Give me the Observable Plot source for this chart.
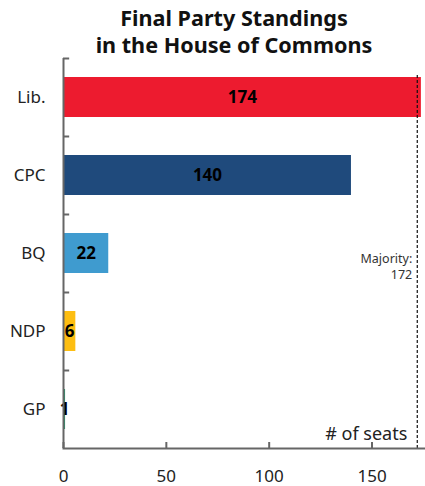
<!DOCTYPE html>
<html>
<head>
<meta charset="utf-8">
<script src="https://cdn.jsdelivr.net/npm/d3@7"></script>
<script src="https://cdn.jsdelivr.net/npm/@observablehq/plot@0.6"></script>
<style>
  html, body { margin: 0; padding: 0; background: #fff; }
  #title {
    box-sizing: border-box;
    width: 425px;
    height: 56px;
    padding: 4px 0 0 43px;
    text-align: center;
    font-family: "Noto Sans", "Open Sans", sans-serif;
    font-weight: 700;
    font-size: 21.6px;
    line-height: 27px;
    color: #111;
  }
  svg { display: block; }
</style>
</head>
<body>
<div id="title">Final Party Standings<br>in the House of Commons</div>
<div id="chart"></div>
<script>
// Seats won by each party
const parties = ["Lib.", "CPC", "BQ", "NDP", "GP"];
const seats = [174, 140, 22, 6, 1];
const partyColors = ["#ed1b2f", "#1f4a7c", "#3f9bcf", "#fdbe12", "#1a9b6b"];
const majority = 172;
const xTicks = [0, 50, 100, 150];

const data = parties.map((party, i) => ({party, seats: seats[i], color: partyColors[i]}));

const font = "'Noto Sans', 'Open Sans', sans-serif";
const axisColor = "#666";

const chart = Plot.plot({
  width: 425,
  height: 430,
  marginTop: 2,
  marginBottom: 38,
  marginLeft: 63,
  marginRight: 0,
  style: {fontFamily: font, color: "#222", background: "#fff"},
  x: {domain: [0, 176]},
  y: {domain: parties, paddingInner: 0.49, paddingOuter: 0.245},
  marks: [
    Plot.barX(data, {x: "seats", y: "party", fill: "color"}),
    // majority threshold
    Plot.ruleX([majority], {stroke: "#111", strokeWidth: 1.2, strokeDasharray: "3,2", insetTop: 17}),
    Plot.text([`Majority:\n${majority}`], {
      x: majority, y: () => "BQ", dx: -5, dy: 12,
      textAnchor: "end", lineHeight: 1.3, fontSize: 12.5, fill: "#333"
    }),
    Plot.text(["# of seats"], {
      x: majority, frameAnchor: "bottom", dx: -10, dy: -9,
      textAnchor: "end", lineAnchor: "bottom", fontSize: 18, fill: "#222"
    }),
    // value labels
    Plot.text(data, {
      x: d => d.seats / 2, y: "party", text: "seats",
      fontWeight: 700, fontSize: 17, fill: "#000"
    }),
    // axes
    Plot.axisY({tickSize: 0, tickPadding: 18, fontSize: 17, label: null, fill: "#222"}),
    Plot.ruleY(parties, {y: d => d, dy: -39, x1: 0, x2: 3, stroke: axisColor, strokeWidth: 2}),
    Plot.axisX({ticks: xTicks, tickSize: 0, tickPadding: 21, fontSize: 17, label: null, fill: "#222"}),
    Plot.axisX({ticks: xTicks, tickSize: 6, dy: -6, tickFormat: () => "", label: null, stroke: axisColor, strokeWidth: 2}),
    Plot.ruleX([0], {stroke: axisColor, strokeWidth: 2}),
    Plot.frame({anchor: "bottom", stroke: axisColor, strokeWidth: 2})
  ]
});

document.getElementById("chart").appendChild(chart);
</script>
</body>
</html>
